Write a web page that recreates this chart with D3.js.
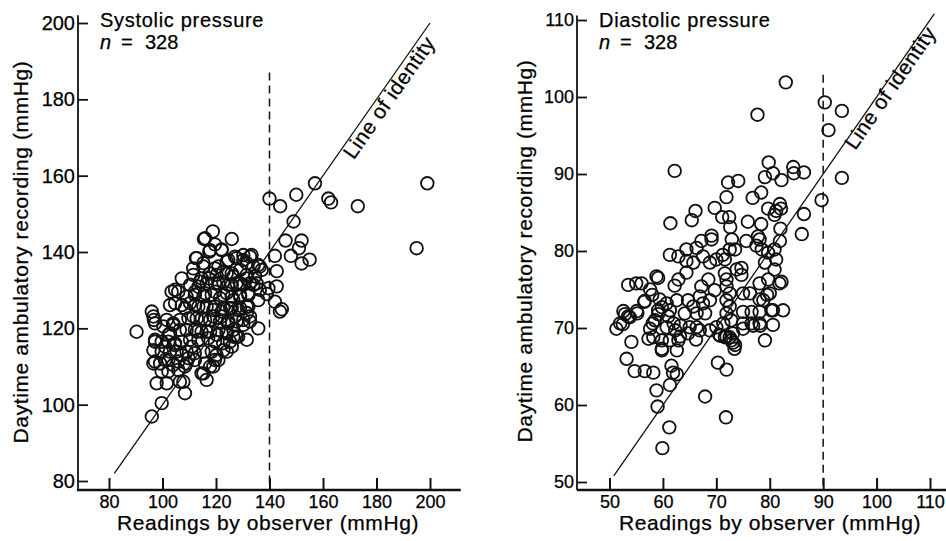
<!DOCTYPE html>
<html><head><meta charset="utf-8">
<script src="https://cdn.jsdelivr.net/npm/d3@7"></script>
<style>
body{margin:0;background:#fff}
svg{display:block}
text{font-family:"Liberation Sans",Arial,Helvetica,sans-serif;fill:#000;stroke:#000;stroke-width:0.25px}
</style>
</head><body>
<svg id="chart" width="946" height="541"></svg>
<script>
// ---- data (observer reading, ambulatory reading), mmHg ----
const systolicPoints = [
[118.8,145.4],[115.5,143.4],[119.6,142.0],[125.9,143.4],[122.1,140.7],[117.5,140.1],[112.5,138.4],[115.3,137.1],[120.9,136.2],[124.0,137.5],
[127.1,138.8],[130.2,139.2],[133.3,139.2],[136.4,136.2],[134.0,136.2],[131.5,137.1],[129.0,135.3],[126.5,133.6],[124.0,134.4],[120.2,134.0],
[117.8,134.4],[114.6,133.1],[111.5,135.7],[107.2,133.1],[110.3,131.4],[113.4,130.9],[116.5,131.8],[119.6,131.8],[122.7,132.2],[125.9,131.4],
[129.0,131.8],[131.5,133.1],[134.0,131.4],[136.4,130.1],[132.1,129.2],[129.0,128.3],[126.5,127.4],[124.0,129.2],[121.5,127.9],[118.4,128.8],
[115.3,128.3],[112.1,128.8],[109.0,128.3],[105.9,129.6],[103.4,129.6],[104.7,126.6],[107.2,126.1],[110.3,126.6],[113.4,125.7],[116.5,125.7],
[119.6,125.7],[122.7,125.3],[125.9,125.3],[129.0,125.3],[131.5,125.7],[132.7,123.1],[130.2,122.2],[127.1,123.1],[124.6,121.8],[122.1,123.1],
[119.0,123.1],[115.9,122.2],[112.8,122.6],[109.7,122.6],[106.5,122.2],[104.0,121.3],[101.6,122.2],[100.3,120.5],[102.8,118.7],[106.5,119.6],
[109.0,119.6],[112.1,119.6],[114.6,119.1],[117.8,119.1],[120.9,119.6],[124.0,119.1],[126.5,119.6],[128.3,117.8],[131.5,117.0],[135.8,120.0],
[125.2,116.5],[122.7,116.1],[119.6,116.5],[117.1,117.4],[113.4,117.0],[110.3,117.0],[107.2,116.5],[104.7,116.1],[102.2,116.5],[99.7,116.5],
[97.2,116.5],[96.6,114.3],[99.7,113.9],[102.8,113.9],[105.3,113.9],[109.0,113.9],[112.1,113.5],[115.3,113.9],[118.4,113.9],[120.2,113.0],
[124.0,113.9],[120.9,111.7],[119.0,110.0],[115.9,110.8],[112.1,111.7],[109.0,110.8],[105.9,111.3],[102.2,111.7],[99.1,110.8],[96.6,110.8],
[99.7,108.7],[102.2,108.7],[105.9,109.1],[114.6,108.2],[116.5,106.5],[107.8,106.0],[97.8,105.6],[101.6,105.6],[108.4,103.0],[90.3,119.1],
[96.0,124.4],[96.6,123.1],[96.8,122.2],[97.2,121.3],[99.7,100.4],[96.0,96.9],
[140,154],[144,152],[150,155],[157,158],[162,154],[163,153],[173,152],[199,158],[195,141],[149,148],
[146,143],[152,143],[151,141],[148,139],[155,138],[152,137],[142,139],[142.7,135],[142.7,131],[139,129],[142,127],[144.6,125],
[115.9,143.6],[117.8,140.5],[122.1,140.5],[112.8,138.4],[124.6,137.9],[127.7,138.4],[130.2,137.9],[132.7,138.8],[135.8,136.6],[137.1,135.3],
[115.3,136.2],[119.6,135.7],[122.8,134.9],[125.9,134.4],[131.5,134.0],[134.6,133.6],[111.5,134.0],[114.0,132.2],[117.2,133.1],[120.9,131.8],
[124.6,131.4],[127.7,131.8],[130.2,131.4],[132.7,131.8],[135.2,131.8],[112.2,129.6],[115.9,129.2],[119.6,129.6],[122.8,128.7],[125.9,128.3],
[129.0,128.7],[132.1,128.7],[135.8,127.4],[139.6,130.5],[112.2,126.1],[115.3,125.7],[119.0,124.8],[122.1,124.4],[125.3,125.3],[128.4,124.8],
[131.5,124.0],[132.7,121.8],[130.2,120.9],[127.7,121.8],[124.6,121.3],[121.5,121.8],[117.8,122.2],[114.7,122.6],[111.5,123.1],[112.8,119.1],
[116.5,119.1],[120.3,118.3],[124.0,118.7],[127.7,117.8],
[104.7,130.1],[102.8,126.1],[104.0,120.9],[97.2,117.0],[102.2,118.3],[108.4,125.3],[101.0,115.2],[104.7,115.6],[97.2,111.3],[101.0,111.7],
[104.0,110.4],[107.2,113.0],[108.4,110.0],[106.5,106.0],[110.9,115.2],[109.7,112.2],[126.5,117.8],[122.8,114.3],[125.9,115.2],[119.6,111.7],
[117.8,110.0],[115.3,108.2],[143.9,124.4],[132.1,125.7]
];
const diastolicPoints = [
[77.7,97.7],[62.2,90.4],[79.8,91.5],[79.1,89.6],[80.6,90.1],[82.2,89.2],[84.4,90.9],[84.5,90.1],[86.4,90.2],[72.2,88.9],
[74.1,89.1],[76.8,86.9],[78.4,87.6],[71.9,87.0],[72.4,84.4],[69.7,85.6],[66.1,85.2],[65.4,84.0],[61.4,83.6],[79.7,85.5],
[81.2,85.2],[81.9,86.1],[82.1,85.5],[80.9,84.7],[86.4,84.8],[86.0,82.2],[82.0,82.9],[71.1,84.4],[72.6,83.1],[72.9,81.5],
[75.9,83.8],[78.4,83.5],[77.8,81.9],[78.1,81.5],[75.6,81.3],[69.1,82.0],[69.1,81.5],[67.2,81.3],[66.3,80.4],[64.4,80.2],
[61.3,79.5],[62.9,79.3],[64.4,78.7],[65.7,78.5],[67.5,79.3],[68.8,78.5],[70.0,78.9],[71.2,79.5],[71.6,78.9],[72.5,80.2],
[73.5,80.2],[74.7,77.8],[73.8,77.6],[71.6,77.1],[71.9,76.3],[71.9,75.4],[72.5,74.5],[71.9,73.6],[72.5,72.8],[71.9,71.9],
[72.8,71.0],[71.3,70.6],[70.0,70.1],[73.1,69.3],[73.1,68.1],[73.4,67.3],[72.5,68.8],[71.6,68.8],[70.7,69.0],[75.0,72.1],
[75.0,70.6],[76.6,70.6],[78.1,70.6],[80.6,70.4],[79.1,68.4],[76.6,72.1],[78.1,72.1],[80.6,72.3],[82.5,72.3],[78.8,73.6],
[80.0,74.5],[78.1,75.8],[79.7,76.3],[82.2,76.0],[80.9,77.6],[79.1,78.5],[81.2,78.9],[79.7,79.8],[77.5,80.7],[78.5,80.2],
[80.9,80.2],[81.9,81.3],[76.3,74.5],[75.0,74.5],[74.7,76.9],[69.7,74.9],[68.5,76.3],[67.2,75.4],[66.9,74.1],[67.5,73.2],
[68.8,73.6],[67.9,71.9],[66.3,71.9],[65.7,72.8],[64.7,73.6],[64.1,71.9],[65.0,70.1],[66.3,70.1],[66.9,69.7],[64.4,77.2],
[62.9,76.3],[62.2,75.5],[62.6,73.6],[61.3,72.3],[61.0,71.5],[60.7,70.1],[62.0,70.6],[63.3,70.3],[62.3,69.7],[62.9,68.4],
[61.3,68.4],[59.8,68.4],[58.2,68.8],[57.3,68.6],[57.6,69.9],[58.5,71.0],[59.1,71.8],[59.8,72.7],[60.7,73.2],[58.8,76.7],
[57.6,75.0],[56.0,75.8],[53.5,75.6],[56.6,73.5],[55.1,72.2],[53.5,71.5],[52.6,72.2],[52.0,70.6],[51.3,69.9],[54.1,68.2],
[53.2,66.0],[54.7,64.4],[56.6,64.4],[58.2,64.2],[59.8,67.1],[62.6,67.1],[61.6,65.1],[61.9,64.2],[62.6,64.0],[61.3,62.6],
[58.8,61.9],[70.3,65.5],[71.9,64.6],[67.9,61.1],
[83.0,101.9],[91.0,95.7],[90.3,99.3],[93.5,98.2],[93.5,89.5],[89.7,86.6],
[59.9,54.4],[61.2,57.1],[59.0,59.8],[71.8,58.4],[52.5,70.5],[52.9,71.8],[53.8,71.4],[55.2,71.9],[56.5,73.4],[55.0,75.8],
[59.1,76.5],[58.0,74.3],[59.4,73.7],[59.1,72.3],[58.1,70.6],[59.8,67.3],[63.2,68.9],[64.7,69.3],[66.2,68.5],[68.8,69.7],
[70.6,69.1],[71.9,68.9],[72.8,68.4],[73.5,67.8],[75.0,69.9],[76.9,70.3],[78.2,70.3],[80.3,72.3],[79.5,74.3],[81.8,75.8],
[78.1,73.7]
];
const systolicTicks = [80,100,120,140,160,180,200];
const diastolicTicks = [50,60,70,80,90,100,110];

// ---- layout ----
const svg = d3.select("#chart");
const panels = [
  {title:"Systolic pressure", points:systolicPoints, ticks:systolicTicks, domain:[80,200],
   xr:[109,430], yr:[481,23], axisX:78, axisY:490, xLineExt:[68,211.5], yLineExt:[77.6,202],
   threshold:140, dashTop:187, idLine:[82,200], idLabel:[171.5,164],
   yTickSize:20, xTickSize:18, titleX:100, yTitleX:28, yTitleY:252, xTitleX:268},
  {title:"Diastolic pressure", points:diastolicPoints, ticks:diastolicTicks, domain:[50,110],
   xr:[609.5,930], yr:[482,20], axisX:577, axisY:490, xLineExt:[43.9,113.5], yLineExt:[49,110.6],
   threshold:90, dashTop:102.9, idLine:[50.8,110.8], idLabel:[96,93],
   yTickSize:18, xTickSize:18, titleX:599, yTitleX:532, yTitleY:251, xTitleX:770}
];

panels.forEach(p => {
  const x = d3.scaleLinear().domain(p.domain).range(p.xr);
  const y = d3.scaleLinear().domain(p.domain).range(p.yr);
  const g = svg.append("g");

  // axis lines
  g.append("line").attr("x1", x(p.xLineExt[0])).attr("x2", x(p.xLineExt[1]))
    .attr("y1", p.axisY).attr("y2", p.axisY).attr("stroke","#111").attr("stroke-width",2.4);
  g.append("line").attr("x1", p.axisX).attr("x2", p.axisX)
    .attr("y1", y(p.yLineExt[1])).attr("y2", p.axisY).attr("stroke","#111").attr("stroke-width",1.8);

  const xa = g.append("g").attr("transform", `translate(0,${p.axisY})`)
    .call(d3.axisBottom(x).tickValues(p.ticks).tickSize(-12).tickSizeOuter(0).tickPadding(5));
  xa.select(".domain").remove();
  xa.selectAll("line").attr("stroke","#111").attr("stroke-width",2);
  xa.selectAll("text").style("font-size", p.xTickSize+"px").style("fill","#000")
    .style("font-family",'"Liberation Sans",Arial,sans-serif');

  const ya = g.append("g").attr("transform", `translate(${p.axisX},0)`)
    .call(d3.axisLeft(y).tickValues(p.ticks).tickSize(-10).tickSizeOuter(0).tickPadding(3));
  ya.select(".domain").remove();
  ya.selectAll("line").attr("stroke","#111").attr("stroke-width",1.8);
  ya.selectAll("text").style("font-size", p.yTickSize+"px").style("fill","#000")
    .style("font-family",'"Liberation Sans",Arial,sans-serif');

  // threshold dashed line
  g.append("line").attr("x1", x(p.threshold)).attr("x2", x(p.threshold))
    .attr("y1", y(p.dashTop)).attr("y2", p.axisY)
    .attr("stroke","#111").attr("stroke-width",1.5).attr("stroke-dasharray","8,5");

  // identity line
  g.append("line").attr("x1", x(p.idLine[0])).attr("y1", y(p.idLine[0]))
    .attr("x2", x(p.idLine[1])).attr("y2", y(p.idLine[1]))
    .attr("stroke","#111").attr("stroke-width",1.3);
  const ang = Math.atan2(y(p.idLine[1]) - y(p.idLine[0]), x(p.idLine[1]) - x(p.idLine[0])) * 180 / Math.PI;
  g.append("text").attr("transform", `translate(${x(p.idLabel[0])},${y(p.idLabel[1])}) rotate(${ang})`)
    .style("font-size","21px").style("letter-spacing","0.5px").text("Line of identity");

  // points
  g.append("g").selectAll("circle").data(p.points).join("circle")
    .attr("cx", d => x(d[0])).attr("cy", d => y(d[1])).attr("r", 6.3)
    .attr("fill","none").attr("stroke","#111").attr("stroke-width",1.8);

  // titles
  g.append("text").attr("x", p.titleX).attr("y", 27).style("font-size","20px")
    .style("letter-spacing","0.7px").text(p.title);
  const nt = g.append("text").attr("y", 49).style("font-size","20px");
  nt.append("tspan").attr("x", p.titleX).style("font-style","italic").text("n");
  nt.append("tspan").attr("x", p.titleX + 21).text("=");
  nt.append("tspan").attr("x", p.titleX + 45).text("328");

  g.append("text").attr("x", p.xTitleX).attr("y", 530).attr("text-anchor","middle")
    .style("font-size","21px").style("letter-spacing","0.6px").text("Readings by observer (mmHg)");
  g.append("text").attr("transform", `translate(${p.yTitleX},${p.yTitleY}) rotate(-90)`)
    .attr("text-anchor","middle").style("font-size","21px").style("letter-spacing","0.6px")
    .text("Daytime ambulatory recording (mmHg)");
});
</script>
</body></html>
